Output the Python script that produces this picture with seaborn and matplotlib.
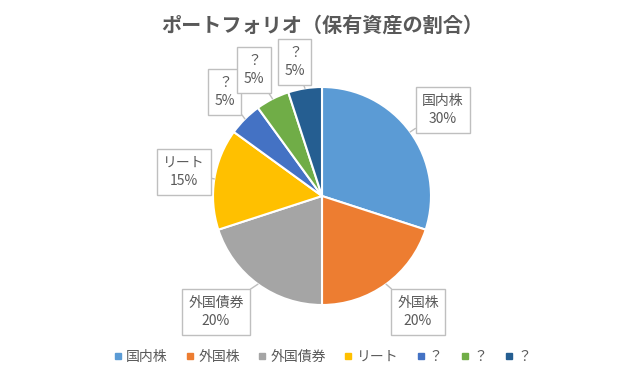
import matplotlib
matplotlib.use("Agg")
import matplotlib.pyplot as plt
import seaborn as sns
import numpy as np
from matplotlib.lines import Line2D

# ── データ ──────────────────────────────────────────────
labels = ["国内株", "外国株", "外国債券", "リート", "？", "？", "？"]
shares = [30, 20, 20, 15, 5, 5, 5]
colors = ["#5B9BD5", "#ED7D31", "#A5A5A5", "#FFC000", "#4472C4", "#70AD47", "#255E91"]

# ラベル枠の中心位置（ピクセル座標、上から測る）
box_pos = [(443, 110), (418, 312), (216, 312), (184, 172), (225, 92), (254, 70), (295, 62)]

sns.set_theme(style="white")
plt.rcParams["font.family"] = ["Noto Sans CJK JP", "DejaVu Sans"]

W, H = 644, 386
fig = plt.figure(figsize=(W / 100, H / 100), dpi=100)
ax = fig.add_axes([0, 0, 1, 1])

cx, cy, r = 322, H - 196, 109
wedges, _ = ax.pie(
    shares, colors=sns.color_palette(colors), startangle=90, counterclock=False,
    center=(cx, cy), radius=r, frame=True,
    wedgeprops=dict(edgecolor="white", linewidth=1.5),
)
ax.set_xlim(0, W)
ax.set_ylim(0, H)
ax.set_aspect("equal")
ax.axis("off")

for w, lab, val, (bx, by) in zip(wedges, labels, shares, box_pos):
    ang = np.deg2rad((w.theta1 + w.theta2) / 2)
    px, py = cx + r * np.cos(ang), cy + r * np.sin(ang)
    ax.annotate(
        f"{lab}\n{val}%", xy=(px, py), xytext=(bx, H - by),
        ha="center", va="center", fontsize=10, color="#595959", linespacing=1.45,
        bbox=dict(boxstyle="square,pad=0.45", fc="white", ec="#BFBFBF", lw=1),
        arrowprops=dict(arrowstyle="-", color="#BFBFBF", lw=1, shrinkA=0, shrinkB=0),
    )

fig.text(0.5, 1 - 25 / H, "ポートフォリオ（保有資産の割合）", ha="center", va="center",
         fontsize=14.5, fontweight="bold", color="#595959")

handles = [Line2D([], [], marker="s", ls="", markersize=5, color=c) for c in colors]
ax.legend(handles, labels, ncol=7, loc="center", bbox_to_anchor=(0.5, 1 - 357 / H),
          frameon=False, fontsize=10, labelcolor="#595959", handletextpad=0.2,
          columnspacing=1.2, handlelength=0.8)

fig.savefig("out.png", dpi=100)
